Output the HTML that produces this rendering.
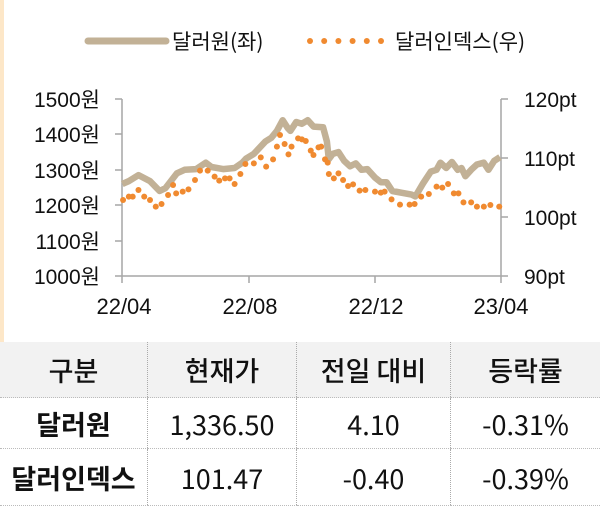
<!DOCTYPE html>
<html><head><meta charset="utf-8"><style>
body{margin:0;width:600px;height:504px;background:#fff;overflow:hidden;position:relative;font-family:"Liberation Sans","Noto Sans CJK KR",sans-serif;color:#111}
#strip{position:absolute;left:0;top:0;width:4px;height:342px;background:#fde7c8}
svg{position:absolute;left:0;top:0}
table{position:absolute;left:0;top:342px;width:600px;border-collapse:collapse;font-family:"Noto Sans CJK KR",sans-serif}
td{text-align:center;font-size:27px;border-left:1px dotted #aaa;border-bottom:1px dotted #bbb;padding:0;line-height:1;white-space:nowrap}
td:first-child{border-left:none}
tr.h td{background:#f2f2f2;height:55px;font-weight:500}
tr.r1 td{height:50px}
tr.r2 td{height:56px}
.b{font-weight:700}
</style></head><body>
<div id="strip"></div>
<svg id="s" width="600" height="340" viewBox="0 0 600 340" font-family="Liberation Sans, Noto Sans CJK KR, sans-serif" font-size="21" fill="#111">
<line x1="88" y1="41" x2="166" y2="41" stroke="#c2b196" stroke-width="7" stroke-linecap="round"/>
<text x="172" y="49" font-family="Noto Sans CJK KR, sans-serif" font-size="21">달러원(좌)</text>
<g id="lg" fill="#f08a30"></g>
<text x="395" y="49" font-family="Noto Sans CJK KR, sans-serif" font-size="21">달러인덱스(우)</text>
<g stroke="#a6a6a6" stroke-width="1.5">
<line x1="122" y1="99" x2="122" y2="276"/>
<line x1="501" y1="99" x2="501" y2="276"/>
<line x1="122" y1="276" x2="501" y2="276"/>
<line x1="115" y1="99" x2="122" y2="99"/><line x1="115" y1="134" x2="122" y2="134"/><line x1="115" y1="170" x2="122" y2="170"/><line x1="115" y1="205" x2="122" y2="205"/><line x1="115" y1="241" x2="122" y2="241"/><line x1="115" y1="276" x2="122" y2="276"/>
<line x1="501" y1="99" x2="508" y2="99"/><line x1="501" y1="158" x2="508" y2="158"/><line x1="501" y1="217" x2="508" y2="217"/><line x1="501" y1="276" x2="508" y2="276"/>
<line x1="122" y1="276" x2="122" y2="283"/><line x1="249" y1="276" x2="249" y2="283"/><line x1="375" y1="276" x2="375" y2="283"/><line x1="501" y1="276" x2="501" y2="283"/>
</g>
<g text-anchor="end">
<text x="100" y="107">1500원</text><text x="100" y="142">1400원</text><text x="100" y="178">1300원</text><text x="100" y="213">1200원</text><text x="100" y="249">1100원</text><text x="100" y="284">1000원</text>
</g>
<g>
<text x="524" y="107">120pt</text><text x="524" y="166">110pt</text><text x="524" y="225">100pt</text><text x="524" y="284">90pt</text>
</g>
<g text-anchor="middle" font-size="22">
<text x="124" y="314">22/04</text><text x="250" y="314">22/08</text><text x="376" y="314">22/12</text><text x="501" y="314">23/04</text>
</g>
<polyline id="won" fill="none" stroke="#c2b196" stroke-width="6.5" stroke-linejoin="round"/>
<g id="dots" fill="#f08a30"></g>
</svg>
<table>
<tr class="h"><td style="width:147px">구분</td><td style="width:148px">현재가</td><td style="width:153px">전일 대비</td><td>등락률</td></tr>
<tr class="r1"><td class="b">달러원</td><td>1,336.50</td><td>4.10</td><td>-0.31%</td></tr>
<tr class="r2"><td class="b">달러인덱스</td><td>101.47</td><td>-0.40</td><td>-0.39%</td></tr>
</table>
<script>
var ns="http://www.w3.org/2000/svg";
var lg=document.getElementById("lg");
for(var i=0;i<6;i++){var c=document.createElementNS(ns,"circle");c.setAttribute("cx",310+i*14.2);c.setAttribute("cy",41);c.setAttribute("r",3);lg.appendChild(c);}
var W=[[318,1260],[335,1268],[360,1285],[390,1268],[415,1240],[430,1248],[460,1290],[480,1300],[510,1302],[535,1320],[550,1308],[580,1302],[610,1305],[630,1320],[640,1332],[660,1345],[690,1380],[705,1390],[720,1410],[735,1440],[748,1418],[755,1410],[770,1435],[785,1430],[800,1440],[815,1422],[840,1420],[850,1380],[855,1330],[865,1345],[880,1350],[895,1325],[910,1310],[925,1318],[940,1300],[955,1302],[975,1278],[990,1265],[1005,1265],[1020,1240],[1045,1235],[1070,1230],[1080,1225],[1100,1262],[1120,1295],[1135,1300],[1145,1320],[1160,1305],[1175,1322],[1190,1300],[1200,1305],[1210,1282],[1225,1300],[1240,1315],[1258,1320],[1270,1300],[1285,1325],[1300,1336]];
var p=W.map(function(a){return (a[0]/2.6).toFixed(1)+","+(276-(a[1]-1000)*0.354).toFixed(1)}).join(" ");
document.getElementById("won").setAttribute("points",p);
var D=[[320,600],[335,590],[345,590],[360,570],[375,590],[390,600],[405,620],[420,612],[437,585],[450,555],[458,580],[475,575],[490,568],[507,540],[520,512],[540,512],[558,530],[570,542],[585,535],[597,535],[610,552],[625,522],[638,492],[660,490],[678,472],[692,500],[710,478],[720,440],[728,405],[740,432],[750,463],[758,440],[775,415],[785,418],[795,423],[808,452],[815,465],[828,442],[835,440],[845,478],[852,488],[855,522],[868,535],[880,520],[892,540],[905,558],[918,553],[935,572],[950,570],[975,575],[990,578],[1000,575],[1018,598],[1040,614],[1065,614],[1078,612],[1095,590],[1115,582],[1135,560],[1150,563],[1165,552],[1180,580],[1192,580],[1205,607],[1225,607],[1240,620],[1258,620],[1275,615],[1298,620]];
var g=document.getElementById("dots");
D.forEach(function(a){var c=document.createElementNS(ns,"circle");c.setAttribute("cx",a[0]/2.6);c.setAttribute("cy",a[1]/3);c.setAttribute("r",3);g.appendChild(c);});
</script>
</body></html>
